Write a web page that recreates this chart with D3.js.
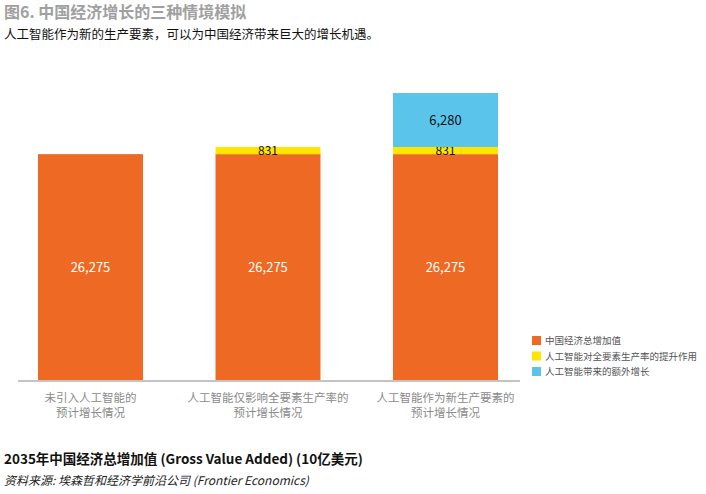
<!DOCTYPE html>
<html>
<head>
<meta charset="utf-8">
<script src="https://cdn.jsdelivr.net/npm/d3@7"></script>
<style>
  body { margin: 0; background: #fff; }
  text { font-family: "Noto Sans CJK SC", "Noto Sans", sans-serif; }
</style>
</head>
<body>
<div id="chart"></div>
<script>
// 数据
const categories = ["未引入人工智能的\n预计增长情况", "人工智能仅影响全要素生产率的\n预计增长情况", "人工智能作为新生产要素的\n预计增长情况"];
const seriesNames = ["中国经济总增加值", "人工智能对全要素生产率的提升作用", "人工智能带来的额外增长"];
const baseValues = [26275, 26275, 26275];
const tfpValues = [0, 831, 831];
const extraValues = [0, 0, 6280];
const colors = ["#EE6A24", "#FFE600", "#5BC4EA"];

function drawChart() {
    d3.select("#chart").selectAll("*").remove();

    const W = 706, H = 494;
    const svg = d3.select("#chart").append("svg")
        .attr("width", W)
        .attr("height", H);

    // 堆叠数据
    const rows = categories.map((c, i) => ({
        cat: c, s0: baseValues[i], s1: tfpValues[i], s2: extraValues[i]
    }));
    const stack = d3.stack().keys(["s0", "s1", "s2"])(rows);

    const x = d3.scaleBand()
        .domain(categories)
        .range([2.5, 533.5])
        .paddingInner(0.4085)
        .paddingOuter(0.2);

    const maxTotal = d3.max(rows, d => d.s0 + d.s1 + d.s2);
    const y = d3.scaleLinear()
        .domain([0, maxTotal])
        .range([380, 93]);

    // 标题
    svg.append("text")
        .attr("x", 4).attr("y", 18)
        .style("font-size", "16px")
        .style("font-weight", "bold")
        .attr("fill", "#a0a0a0")
        .text("图6. 中国经济增长的三种情境模拟");

    svg.append("text")
        .attr("x", 4).attr("y", 39)
        .style("font-size", "12.5px")
        .attr("fill", "#111")
        .text("人工智能作为新的生产要素，可以为中国经济带来巨大的增长机遇。");

    // 柱子
    const g = svg.append("g");
    stack.forEach((layer, k) => {
        g.selectAll(".bar" + k)
            .data(layer.filter(d => d[1] > d[0]))
            .enter().append("rect")
            .attr("x", d => x(d.data.cat))
            .attr("y", d => y(d[1]))
            .attr("width", x.bandwidth())
            .attr("height", d => y(d[0]) - y(d[1]))
            .attr("fill", colors[k]);

        g.selectAll(".lab" + k)
            .data(layer.filter(d => d[1] > d[0]))
            .enter().append("text")
            .attr("x", d => x(d.data.cat) + x.bandwidth() / 2)
            .attr("y", d => k === 1 ? y(d[1]) + 4 : (y(d[0]) + y(d[1])) / 2)
            .attr("dy", "0.35em")
            .attr("text-anchor", "middle")
            .style("font-size", k === 1 ? "12px" : "13px")
            .attr("fill", k === 0 ? "#fff" : "#111")
            .text(d => d3.format(",")(d[1] - d[0]));
    });

    // 基线
    svg.append("line")
        .attr("x1", 18).attr("x2", 520)
        .attr("y1", 381).attr("y2", 381)
        .attr("stroke", "#888")
        .attr("stroke-width", 1);

    // 类别标签
    categories.forEach(c => {
        const t = svg.append("text")
            .attr("text-anchor", "middle")
            .style("font-size", "11.5px")
            .attr("fill", "#8a8a8a");
        c.split("\n").forEach((line, i) => {
            t.append("tspan")
                .attr("x", x(c) + x.bandwidth() / 2)
                .attr("y", 402 + i * 15)
                .text(line);
        });
    });

    // 图例
    const legend = svg.append("g").attr("transform", "translate(532, 336)");
    seriesNames.forEach((n, i) => {
        legend.append("rect")
            .attr("x", 0).attr("y", i * 15.5)
            .attr("width", 9).attr("height", 9)
            .attr("fill", colors[i]);
        legend.append("text")
            .attr("x", 13).attr("y", i * 15.5 + 8)
            .style("font-size", "9.5px")
            .attr("fill", "#555")
            .text(n);
    });

    // 底部说明
    svg.append("text")
        .attr("x", 4).attr("y", 464)
        .style("font-size", "13.5px")
        .style("font-weight", "bold")
        .attr("fill", "#111")
        .text("2035年中国经济总增加值 (Gross Value Added) (10亿美元)");

    svg.append("text")
        .attr("x", 4).attr("y", 485)
        .style("font-size", "12px")
        .style("font-style", "italic")
        .attr("fill", "#222")
        .text("资料来源: 埃森哲和经济学前沿公司 (Frontier Economics)");
}

drawChart();
</script>
</body>
</html>
